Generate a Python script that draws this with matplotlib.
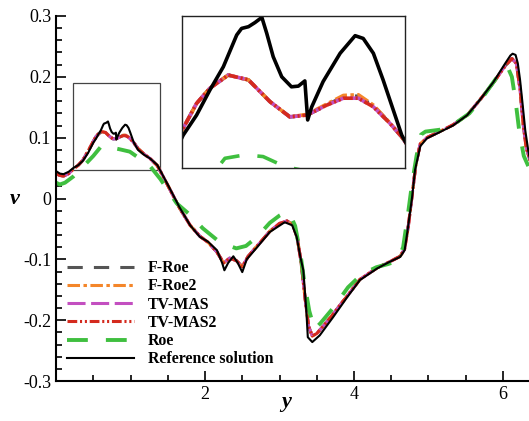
import matplotlib
matplotlib.use('Agg')
import matplotlib.pyplot as plt
from matplotlib.patches import Rectangle
from matplotlib.ticker import MultipleLocator, FormatStrFormatter, FixedLocator

plt.rcParams['font.family'] = ['Liberation Serif', 'DejaVu Serif']
plt.rcParams['axes.unicode_minus'] = False
plt.rcParams['lines.scale_dashes'] = False

# reference solution
ref_x = [0.00, 0.05, 0.10, 0.17, 0.23, 0.30, 0.36, 0.43, 0.503, 0.536, 0.569, 0.602,
         0.635, 0.647, 0.664, 0.680, 0.697, 0.709, 0.725, 0.746, 0.770, 0.787, 0.803,
         0.810, 0.820, 0.848, 0.890, 0.927, 0.947, 0.972, 0.996, 1.021, 1.042, 1.10,
         1.18, 1.26, 1.36, 1.49, 1.66, 1.80, 1.93, 2.04, 2.16, 2.23, 2.26, 2.31, 2.38,
         2.44, 2.50, 2.56, 2.70, 2.87, 3.07, 3.17, 3.23, 3.28, 3.32, 3.36, 3.38, 3.44,
         3.54, 3.72, 3.91, 4.08, 4.31, 4.48, 4.62, 4.68, 4.72, 4.78, 4.82, 4.89, 4.98,
         5.15, 5.33, 5.52, 5.69, 5.87, 6.03, 6.10, 6.13, 6.17, 6.20, 6.23, 6.26, 6.30,
         6.34, 6.37]
ref_v = [0.045, 0.041, 0.040, 0.044, 0.050, 0.055, 0.062, 0.075, 0.0925, 0.0983, 0.1056,
         0.1123, 0.1215, 0.1234, 0.1239, 0.1251, 0.1266, 0.1220, 0.1152, 0.1094, 0.1065,
         0.1067, 0.1082, 0.0969, 0.1007, 0.1080, 0.1162, 0.1213, 0.1205, 0.1162, 0.1085,
         0.0998, 0.0925, 0.080, 0.072, 0.066, 0.055, 0.025, -0.015, -0.044, -0.063,
         -0.071, -0.085, -0.106, -0.118, -0.106, -0.095, -0.106, -0.121, -0.100, -0.080,
         -0.055, -0.039, -0.044, -0.063, -0.096, -0.118, -0.184, -0.228, -0.236, -0.225,
         -0.195, -0.162, -0.134, -0.115, -0.104, -0.096, -0.085, -0.052, 0.002, 0.047,
         0.086, 0.099, 0.109, 0.120, 0.137, 0.162, 0.191, 0.222, 0.235, 0.238, 0.236,
         0.222, 0.195, 0.160, 0.112, 0.079, 0.060]

# numerical schemes (all very close to each other)
num_x = [0.00, 0.05, 0.10, 0.17, 0.23, 0.30, 0.36, 0.43, 0.503, 0.536, 0.569, 0.614,
         0.664, 0.717, 0.766, 0.808, 0.857, 0.898, 0.935, 0.972, 1.013, 1.042, 1.10,
         1.18, 1.26, 1.36, 1.49, 1.66, 1.80, 1.93, 2.04, 2.16, 2.25, 2.33, 2.42, 2.50,
         2.58, 2.70, 2.87, 3.00, 3.10, 3.18, 3.24, 3.29, 3.34, 3.39, 3.44, 3.50, 3.60,
         3.72, 3.91, 4.08, 4.31, 4.48, 4.62, 4.68, 4.73, 4.78, 4.83, 4.89, 4.98, 5.15,
         5.33, 5.52, 5.69, 5.87, 6.03, 6.12, 6.18, 6.23, 6.27, 6.31, 6.37]
froe_v = [0.041, 0.038, 0.037, 0.041, 0.048, 0.055, 0.063, 0.078, 0.0945, 0.1017, 0.1061,
          0.1099, 0.1085, 0.1022, 0.0978, 0.0983, 0.1012, 0.1036, 0.1038, 0.1010, 0.0959,
          0.0920, 0.082, 0.073, 0.066, 0.054, 0.024, -0.016, -0.044, -0.062, -0.072,
          -0.088, -0.106, -0.098, -0.102, -0.112, -0.095, -0.078, -0.054, -0.041, -0.037,
          -0.043, -0.066, -0.105, -0.160, -0.210, -0.226, -0.222, -0.208, -0.190, -0.160,
          -0.133, -0.114, -0.104, -0.095, -0.083, -0.045, 0.005, 0.055, 0.090, 0.100,
          0.110, 0.121, 0.137, 0.162, 0.190, 0.218, 0.230, 0.222, 0.180, 0.125, 0.085,
          0.060]
froe2_v = [0.041, 0.038, 0.037, 0.041, 0.048, 0.055, 0.063, 0.078, 0.0945, 0.1017, 0.1061,
           0.1099, 0.1085, 0.1022, 0.0978, 0.0985, 0.1015, 0.1040, 0.1042, 0.1012, 0.0960,
           0.0920, 0.082, 0.073, 0.066, 0.054, 0.024, -0.016, -0.044, -0.062, -0.072,
           -0.088, -0.106, -0.098, -0.102, -0.112, -0.095, -0.078, -0.054, -0.041, -0.037,
           -0.043, -0.066, -0.105, -0.160, -0.210, -0.226, -0.222, -0.208, -0.190, -0.160,
           -0.133, -0.114, -0.104, -0.095, -0.083, -0.045, 0.005, 0.055, 0.090, 0.100,
           0.110, 0.121, 0.137, 0.162, 0.190, 0.218, 0.230, 0.222, 0.180, 0.125, 0.085,
           0.060]
tvmas_v = [0.041, 0.038, 0.037, 0.041, 0.048, 0.055, 0.063, 0.078, 0.0945, 0.1017, 0.1061,
           0.1099, 0.1085, 0.1022, 0.0978, 0.0983, 0.1012, 0.1032, 0.1032, 0.1007, 0.0959,
           0.0920, 0.082, 0.073, 0.066, 0.054, 0.024, -0.016, -0.044, -0.062, -0.072,
           -0.088, -0.106, -0.098, -0.102, -0.112, -0.095, -0.078, -0.054, -0.041, -0.037,
           -0.043, -0.066, -0.105, -0.160, -0.210, -0.226, -0.222, -0.208, -0.190, -0.160,
           -0.133, -0.114, -0.104, -0.095, -0.083, -0.045, 0.005, 0.055, 0.090, 0.100,
           0.110, 0.121, 0.137, 0.162, 0.190, 0.218, 0.230, 0.222, 0.180, 0.125, 0.085,
           0.060]
tvmas2_v = [0.041, 0.038, 0.037, 0.041, 0.048, 0.055, 0.063, 0.078, 0.0945, 0.1017, 0.1061,
            0.1099, 0.1085, 0.1022, 0.0978, 0.0983, 0.1012, 0.1032, 0.1032, 0.1007, 0.0959,
            0.0920, 0.082, 0.073, 0.066, 0.054, 0.024, -0.016, -0.044, -0.062, -0.072,
            -0.088, -0.106, -0.098, -0.102, -0.112, -0.095, -0.078, -0.054, -0.041, -0.037,
            -0.043, -0.066, -0.105, -0.160, -0.210, -0.226, -0.222, -0.208, -0.190, -0.160,
            -0.133, -0.114, -0.104, -0.095, -0.083, -0.045, 0.005, 0.055, 0.090, 0.100,
            0.110, 0.121, 0.137, 0.162, 0.190, 0.218, 0.230, 0.222, 0.180, 0.125, 0.085,
            0.060]

# first order Roe
roe_x = [0.00, 0.05, 0.12, 0.23, 0.36, 0.50, 0.606, 0.655, 0.700, 0.754, 0.85, 0.99,
         1.13, 1.25, 1.40, 1.62, 1.80, 1.97, 2.20, 2.42, 2.55, 2.70, 2.87, 3.00, 3.08,
         3.14, 3.21, 3.28, 3.33, 3.40, 3.47, 3.55, 3.72, 3.92, 4.10, 4.30, 4.45, 4.55,
         4.60, 4.66, 4.72, 4.78, 4.84, 4.90, 4.96, 5.15, 5.33, 5.55, 5.72, 5.90, 6.00,
         6.07, 6.12, 6.17, 6.22, 6.28, 6.37]
roe_v = [0.026, 0.023, 0.026, 0.036, 0.052, 0.070, 0.0858, 0.0868, 0.0863, 0.0834, 0.081,
         0.077, 0.065, 0.055, 0.032, -0.008, -0.027, -0.049, -0.072, -0.082, -0.078,
         -0.063, -0.040, -0.028, -0.023, -0.026, -0.045, -0.090, -0.135, -0.185, -0.215,
         -0.205, -0.180, -0.146, -0.125, -0.113, -0.108, -0.104, -0.098, -0.080, -0.030,
         0.025, 0.070, 0.105, 0.110, 0.113, 0.121, 0.140, 0.165, 0.196, 0.212, 0.214,
         0.200, 0.160, 0.110, 0.070, 0.045]

series = [
    ('F-Roe', num_x, froe_v, '#555555', (11, 8), 2.2),
    ('F-Roe2', num_x, froe2_v, '#f4862a', (9, 2.5, 2.5, 2.5), 2.2),
    ('TV-MAS', num_x, tvmas_v, '#c34fc0', (13, 4), 2.2),
    ('TV-MAS2', num_x, tvmas2_v, '#d42a1e', (7, 2, 1.5, 2, 1.5, 2), 2.2),
    ('Roe', roe_x, roe_v, '#3fbf3f', (15, 13), 2.8),
]

fig = plt.figure(figsize=(5.29, 4.21), dpi=100)
ax = fig.add_axes([0.106, 0.095, 0.894, 0.867])

for name, xs, vs, col, dash, lw in series:
    ax.plot(xs, vs, color=col, lw=lw, dashes=dash, label=name)
ax.plot(ref_x, ref_v, color='black', lw=1.5, label='Reference solution')

ax.set_xlim(0, 6.35)
ax.set_ylim(-0.3, 0.3)
ax.xaxis.set_major_locator(FixedLocator([2, 4, 6]))
ax.xaxis.set_minor_locator(MultipleLocator(0.5))
ax.yaxis.set_major_locator(MultipleLocator(0.1))
ax.yaxis.set_minor_locator(MultipleLocator(0.02))
ax.yaxis.set_major_formatter(FormatStrFormatter('%g'))
ax.tick_params(which='both', direction='in', labelsize=13, width=1.2)
ax.tick_params(which='major', length=7)
ax.tick_params(which='minor', length=4)
ax.spines['top'].set_visible(False)
ax.spines['right'].set_visible(False)
ax.spines['left'].set_linewidth(1.5)
ax.spines['bottom'].set_linewidth(1.5)
ax.set_xlabel('y', fontsize=16, fontweight='bold', style='italic', va='center')
ax.xaxis.set_label_coords(0.487, -0.057)
ax.set_ylabel('v', fontsize=16, fontweight='bold', style='italic', rotation=0,
              va='center', ha='center')
ax.yaxis.set_label_coords(-0.088, 0.5)

ax.add_patch(Rectangle((0.23, 0.047), 1.17, 0.143, fill=False, ec='#444444', lw=0.9))

leg = ax.legend(loc='lower left', bbox_to_anchor=(0.0, 0.007), frameon=False,
                prop={'weight': 'bold', 'size': 11.4}, handlelength=4.2,
                handletextpad=0.9, labelspacing=0.14, borderaxespad=0.3)

# zoomed inset
ins = fig.add_axes([0.344, 0.601, 0.4216, 0.361])
for name, xs, vs, col, dash, lw in series:
    ins.plot(xs, vs, color=col, lw=2.6, dashes=dash)
ins.plot(ref_x, ref_v, color='black', lw=2.6)
ins.set_xlim(0.5, 1.05)
ins.set_ylim(0.083, 0.127)
ins.set_xticks([])
ins.set_yticks([])
for s in ins.spines.values():
    s.set_linewidth(1.0)
    s.set_color('#222222')

fig.savefig('out.png', dpi=100)
